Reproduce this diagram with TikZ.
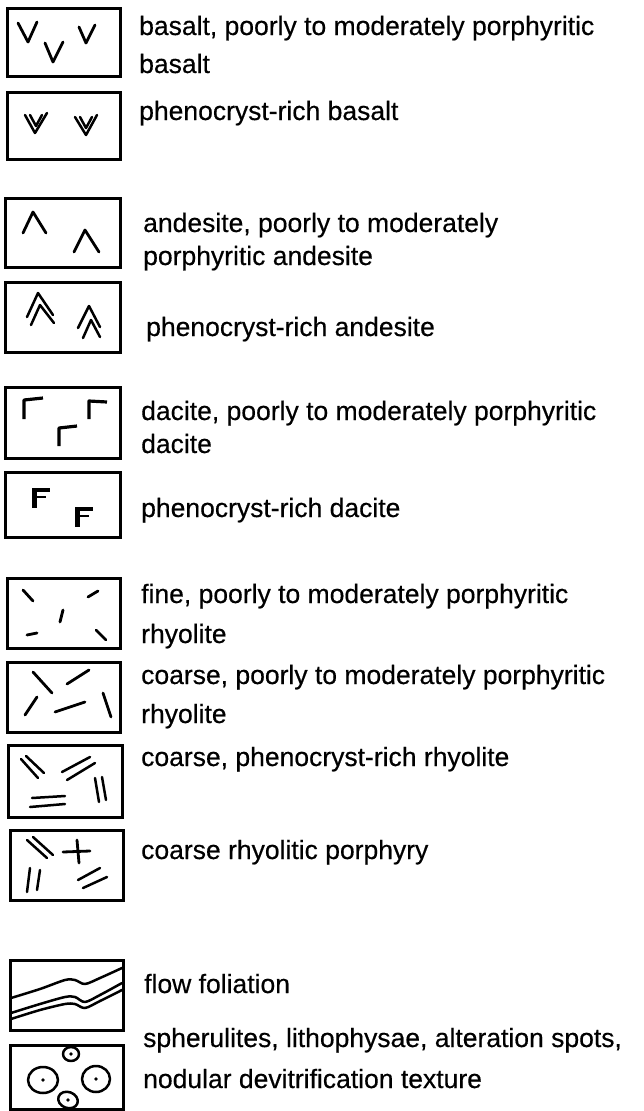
\documentclass[tikz,border=0pt]{standalone}
\usepackage{fontspec}
\setmainfont{Liberation Sans}[FakeBold=0.4]
\begin{document}
\begin{tikzpicture}[x=1pt,y=-1pt,
  lbl/.style={anchor=base west, inner sep=0pt, font=\fontsize{26.5}{30}\selectfont},
  boxst/.style={line width=3pt},
  sym/.style={line width=2.8pt, line cap=round, line join=round},
  thin/.style={line width=2.5pt, line cap=round, line join=round}]
\useasboundingbox[fill=white] (0,0) rectangle (644,1111);
% boxes
\draw[boxst] (7,8) rectangle (120,76);
\draw[boxst] (7,92) rectangle (120,159);
\draw[boxst] (5,198) rectangle (120,267);
\draw[boxst] (5,282) rectangle (120,352);
\draw[boxst] (5,387) rectangle (120,458);
\draw[boxst] (5,472) rectangle (120,537);
\draw[boxst] (7,578) rectangle (120,648);
\draw[boxst] (7,662) rectangle (120,732);
\draw[boxst] (8,745) rectangle (122,817);
\draw[boxst] (10,830) rectangle (123,900);
\draw[boxst] (10,960) rectangle (123,1030);
\draw[boxst] (10,1045) rectangle (123,1109);
% basalt
\draw[sym] (18,23)--(28,42)--(37,22);
\draw[sym] (45,43)--(53,62)--(63,42);
\draw[sym] (79,27)--(86,43)--(95,25);
% phenocryst-rich basalt
\draw[thin] (25,115)--(35,133)--(47,113);
\draw[thin] (30,115)--(36,126)--(42,115);
\draw[thin] (75,117)--(86,135)--(97,115);
\draw[thin] (80,117)--(86,128)--(92,117);
% andesite
\draw[sym] (23,233)--(33,212)--(46,233);
\draw[sym] (74,252)--(85,230)--(99,252);
% phenocryst-rich andesite
\draw[thin] (27,317)--(38,293)--(53,315);
\draw[thin] (31,325)--(40,305)--(54,323);
\draw[thin] (78,328)--(89,306)--(100,327);
\draw[thin] (83,338)--(91,320)--(100,337);
% dacite
\draw[line width=3.2pt, line join=round] (24,419)--(24,400)--(43,398);
\draw[line width=3.2pt, line join=round] (89,419)--(89,401)--(107,402);
\draw[line width=3.2pt, line join=round] (59,446)--(59,428)--(77,426);
% phenocryst-rich dacite
\draw[line width=5pt] (34,488)--(34,508);
\draw[line width=3.4pt] (32,490)--(50,490);
\draw[line width=2.6pt] (34,497)--(46,497);
\draw[line width=5pt] (77,507)--(77,527);
\draw[line width=3.4pt] (75,509)--(93,509);
\draw[line width=2.6pt] (77,516)--(89,516);
% fine rhyolite
\draw[sym] (23,590)--(33,601);
\draw[sym] (88,597)--(98,591);
\draw[sym] (60,622)--(63,610);
\draw[sym] (27,635)--(37,633);
\draw[sym] (96,630)--(106,640);
% coarse rhyolite
\draw[sym] (33,672)--(52,693);
\draw[sym] (67,684)--(89,670);
\draw[sym] (25,715)--(37,697);
\draw[sym] (55,712)--(85,702);
\draw[sym] (103,693)--(111,717);
% coarse phenocryst-rich rhyolite
\draw[thin] (21,759)--(38,778);
\draw[thin] (26,756)--(44,773);
\draw[thin] (62,772)--(90,757);
\draw[thin] (67,780)--(95,763);
\draw[thin] (95,778)--(99,802);
\draw[thin] (102,777)--(106,800);
\draw[thin] (32,798)--(65,796);
\draw[thin] (30,807)--(65,804);
% porphyry
\draw[thin] (27,840)--(47,858);
\draw[thin] (33,837)--(53,855);
\draw[sym] (63,852)--(90,851);
\draw[sym] (77,840)--(79,863);
\draw[thin] (30,868)--(27,892);
\draw[thin] (40,870)--(37,890);
\draw[thin] (78,880)--(100,868);
\draw[thin] (83,888)--(107,877);
% flow foliation
\draw[thin] plot[smooth] coordinates {(11,998) (40,989) (65,980) (75,980) (85,984) (100,978) (122,968)};
\draw[thin] plot[smooth] coordinates {(11,1013) (40,1004) (65,997) (75,997) (85,1002) (100,995) (122,983)};
\draw[thin] plot[smooth] coordinates {(11,1019) (40,1010) (65,1004) (75,1004) (85,1008) (100,1001) (122,990)};
% spherulites
\draw[thin] (71,1054) ellipse [x radius=8, y radius=7];
\draw[thin] (43,1080) ellipse [x radius=15, y radius=13];
\draw[thin] (96,1079) ellipse [x radius=14, y radius=13];
\draw[thin, rotate around={-20:(68,1100)}] (68,1100) ellipse [x radius=10, y radius=8];
\foreach \p in {(71,1054),(43,1080),(96,1079),(68,1100)} \fill \p circle (1.8);
% labels
\node[lbl] (t1) at (139,35) {basalt, poorly to moderately porphyritic};
\node[lbl] (t2) at (139,73) {basalt};
\node[lbl] (t3) at (139,120) {phenocryst-rich basalt};
\node[lbl] (t4) at (143,232) {andesite, poorly to moderately};
\node[lbl] (t5) at (143,265) {porphyritic andesite};
\node[lbl] (t6) at (146,336) {phenocryst-rich andesite};
\node[lbl] (t7) at (141,420) {dacite, poorly to moderately porphyritic};
\node[lbl] (t8) at (141,453) {dacite};
\node[lbl] (t9) at (141,517) {phenocryst-rich dacite};
\node[lbl] (t10) at (141,603) {fine, poorly to moderately porphyritic};
\node[lbl] (t11) at (141,643) {rhyolite};
\node[lbl] (t12) at (141,684) {coarse, poorly to moderately porphyritic};
\node[lbl] (t13) at (141,723) {rhyolite};
\node[lbl] (t14) at (141,766) {coarse, phenocryst-rich rhyolite};
\node[lbl] (t15) at (141,859) {coarse rhyolitic porphyry};
\node[lbl] (t16) at (144,993) {flow foliation};
\node[lbl] (t17) at (143,1047) {spherulites, lithophysae, alteration spots,};
\node[lbl] (t18) at (143,1088) {nodular devitrification texture};
\end{tikzpicture}
\end{document}
